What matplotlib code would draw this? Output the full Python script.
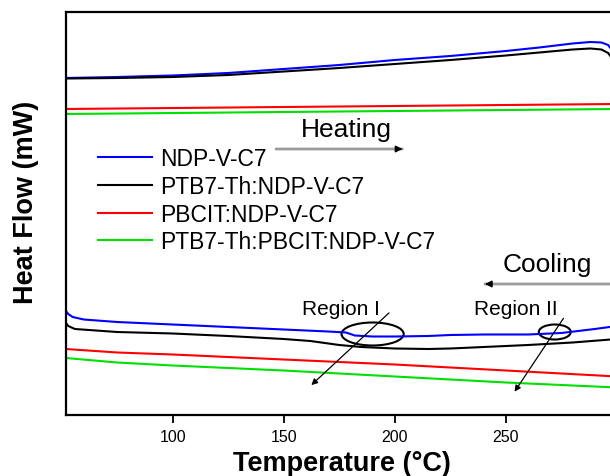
import matplotlib
matplotlib.use("Agg")
import matplotlib.pyplot as plt
from matplotlib.patches import Ellipse

plt.rcParams['font.family'] = ['Liberation Sans', 'DejaVu Sans']

# DSC traces, temperature (C) vs heat flow (arbitrary offset units)
labels = ["NDP-V-C7", "PTB7-Th:NDP-V-C7", "PBCIT:NDP-V-C7", "PTB7-Th:PBCIT:NDP-V-C7"]
colors = ["#0000ff", "#000000", "#ff0000", "#00e000"]

heat_t = [52, 75, 100, 125, 150, 175, 200, 225, 250, 265, 280, 288, 293, 296, 298, 300]
heat_blue = [33.7, 33.8, 33.95, 34.2, 34.6, 35.0, 35.5, 35.9, 36.4, 36.75, 37.15, 37.3, 37.25, 37.0, 36.4, 35.4]
heat_black = [33.65, 33.7, 33.8, 34.0, 34.35, 34.7, 35.1, 35.5, 35.95, 36.25, 36.55, 36.65, 36.55, 36.2, 35.6, 34.6]
heat_lin_t = [52, 150, 250, 300]
heat_red = [30.6, 30.8, 31.0, 31.1]
heat_green = [30.1, 30.3, 30.5, 30.6]

cool_blue_t = [52, 53, 55, 60, 75, 100, 125, 150, 170, 178, 182, 190, 200, 215, 225, 240, 260, 275, 290, 300]
cool_blue = [10.4, 10.1, 9.8, 9.55, 9.3, 9.05, 8.8, 8.55, 8.35, 8.25, 7.95, 7.85, 7.85, 7.9, 8.0, 8.05, 8.05, 8.2, 8.6, 8.9]
cool_black_t = [52, 53, 56, 75, 100, 125, 150, 162, 175, 185, 200, 215, 225, 240, 260, 280, 300]
cool_black = [9.2, 8.9, 8.6, 8.3, 8.15, 7.9, 7.6, 7.4, 7.0, 6.8, 6.65, 6.6, 6.65, 6.8, 7.0, 7.25, 7.6]
cool_lin_t = [52, 75, 100, 150, 200, 250, 300]
cool_red = [6.6, 6.25, 6.05, 5.55, 5.05, 4.45, 3.85]
cool_green = [5.7, 5.25, 4.95, 4.45, 3.85, 3.25, 2.75]

xticks = [100, 150, 200, 250]

fig = plt.figure(figsize=(6.10, 4.77), dpi=100)
ax = fig.add_axes([66 / 610, 61 / 477, 551 / 610, 403 / 477])

lw = 1.5
ax.plot(heat_t, heat_blue, color=colors[0], lw=lw, label=labels[0])
ax.plot(heat_t, heat_black, color=colors[1], lw=lw, label=labels[1])
ax.plot(heat_lin_t, heat_red, color=colors[2], lw=lw, label=labels[2])
ax.plot(heat_lin_t, heat_green, color=colors[3], lw=lw, label=labels[3])
ax.plot(cool_blue_t, cool_blue, color=colors[0], lw=lw)
ax.plot(cool_black_t, cool_black, color=colors[1], lw=lw)
ax.plot(cool_lin_t, cool_red, color=colors[2], lw=lw)
ax.plot(cool_lin_t, cool_green, color=colors[3], lw=lw)

ax.set_xlim(52, 300)
ax.set_ylim(0, 40.3)
ax.set_xticks(xticks)
ax.set_yticks([])
ax.tick_params(axis='x', direction='out', length=6, width=1.3, labelsize=11.5, pad=4)
for s in ax.spines.values():
    s.set_linewidth(1.6)

ax.set_xlabel("Temperature (°C)", fontsize=19.5, fontweight='bold', va='baseline')
ax.xaxis.set_label_coords(0.5, -0.136)
ax.set_ylabel("Heat Flow (mW)", fontsize=19.5, fontweight='bold', va='baseline')
ax.yaxis.set_label_coords(-0.06, 0.531)

ax.legend(loc='upper left', bbox_to_anchor=(0.058, 0.665), frameon=False,
          fontsize=16.5, handlelength=2.35, handletextpad=0.35,
          labelspacing=0.21, borderpad=0, borderaxespad=0)

# heating / cooling arrows
ax.text(178.1, 27.9, "Heating", fontsize=19, ha='center', va='baseline')
ax.annotate('', xy=(204.7, 26.6), xytext=(145.3, 26.6),
            arrowprops=dict(arrowstyle='-', color='#9a9a9a', lw=2))
ax.annotate('', xy=(204.7, 26.6), xytext=(199, 26.6),
            arrowprops=dict(arrowstyle='-|>', color='black', lw=1, mutation_scale=10))
ax.text(268.5, 14.4, "Cooling", fontsize=19, ha='center', va='baseline')
ax.annotate('', xy=(239.3, 13.1), xytext=(300, 13.1),
            arrowprops=dict(arrowstyle='-', color='#9a9a9a', lw=2))
ax.annotate('', xy=(239.3, 13.1), xytext=(245, 13.1),
            arrowprops=dict(arrowstyle='-|>', color='black', lw=1, mutation_scale=10))

# transition regions
ax.text(175.9, 10.1, "Region I", fontsize=15, ha='center', va='baseline')
ax.add_patch(Ellipse((190, 8.1), 28, 2.3, fill=False, color='black', lw=1.5))
ax.annotate('', xy=(161.5, 2.8), xytext=(198.3, 10.4),
            arrowprops=dict(arrowstyle='-|>', color='black', lw=0.9, mutation_scale=9))
ax.text(254.4, 10.05, "Region II", fontsize=15, ha='center', va='baseline')
ax.add_patch(Ellipse((272, 8.3), 14.4, 1.5, fill=False, color='black', lw=1.5))
ax.annotate('', xy=(253.2, 2.1), xytext=(276.6, 9.9),
            arrowprops=dict(arrowstyle='-|>', color='black', lw=0.9, mutation_scale=9))

fig.savefig("out.png", dpi=100)
